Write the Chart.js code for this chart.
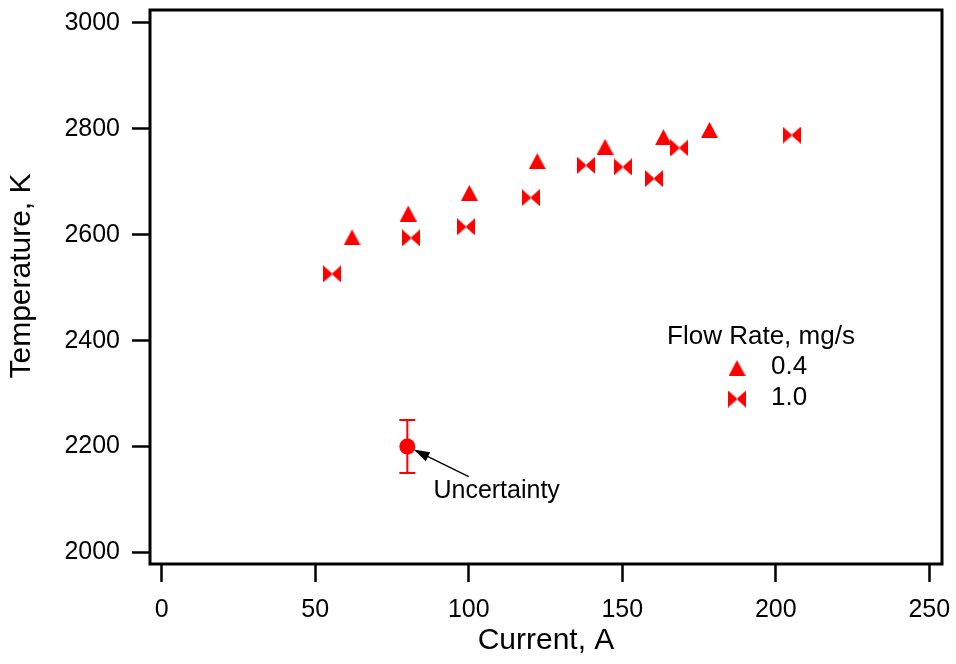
<!DOCTYPE html>
<html>
<head>
<meta charset="utf-8">
<script src="https://cdn.jsdelivr.net/npm/chart.js@4.4.1/dist/chart.umd.min.js"></script>
<style>
  html, body { margin: 0; padding: 0; background: #fff; }
  #wrap { width: 956px; height: 664px; position: relative; }
</style>
</head>
<body>
<div id="wrap"><canvas id="chart"></canvas></div>
<script>
// data
const current04 = [62, 80.3, 100.2, 122.3, 144.4, 163.4, 178.4];
const temp04 = [2595, 2640, 2679, 2739, 2766, 2784, 2798];
const current10 = [55.5, 81.2, 99.1, 120.2, 138.2, 150.2, 160.3, 168.6, 205.2];
const temp10 = [2526, 2594, 2615, 2670, 2731, 2728, 2706, 2764, 2788];
const uncCurrent = [80];
const uncTemp = [2200];
const uncError = 50;
const uncLabel = 'Uncertainty';
const uncLabelAt = [88.5, 2115];   // where the note sits, in data units
const uncArrowFrom = [100, 2143];

const xTicks = [0, 50, 100, 150, 200, 250];
const yTicks = [2000, 2200, 2400, 2600, 2800, 3000];
const xTitle = 'Current, A';
const yTitle = 'Temperature, K';
const legendTitle = 'Flow Rate, mg/s';
const legendLabels = ['0.4', '1.0'];

const FONT = '"Liberation Sans", Arial, Helvetica, sans-serif';
const RED = '#ff0000';

// marker images
function makeMarker(kind) {
  const c = document.createElement('canvas');
  const g = c.getContext('2d');
  if (kind === 'tri') {
    c.width = 17; c.height = 16;
    g.fillStyle = RED;
    g.beginPath();
    g.moveTo(8.5, 0); g.lineTo(17, 16); g.lineTo(0, 16);
    g.closePath(); g.fill();
  } else {
    c.width = 18; c.height = 17;
    g.fillStyle = RED;
    g.beginPath();
    g.moveTo(0, 0); g.lineTo(9.6, 8.5); g.lineTo(0, 17); g.closePath();
    g.moveTo(18, 0); g.lineTo(8.4, 8.5); g.lineTo(18, 17); g.closePath();
    g.fill();
  }
  return c;
}
const triMarker = makeMarker('tri');
const bowMarker = makeMarker('bow');

const toPts = (xs, ys) => xs.map((x, i) => ({x: x, y: ys[i]}));

const extras = {
  id: 'extras',
  beforeDatasetsDraw(chart) {
    const {ctx, scales: {x, y}} = chart;
    // error bar on the uncertainty point
    const px = x.getPixelForValue(uncCurrent[0]);
    const top = y.getPixelForValue(uncTemp[0] + uncError);
    const bot = y.getPixelForValue(uncTemp[0] - uncError);
    ctx.save();
    ctx.strokeStyle = RED;
    ctx.lineWidth = 2;
    ctx.beginPath();
    ctx.moveTo(px, top); ctx.lineTo(px, bot);
    ctx.moveTo(px - 8, top); ctx.lineTo(px + 8, top);
    ctx.moveTo(px - 8, bot); ctx.lineTo(px + 8, bot);
    ctx.stroke();
    ctx.restore();
  },
  afterDraw(chart) {
    const {ctx, chartArea: a, scales: {x, y}} = chart;
    ctx.save();
    // frame
    ctx.strokeStyle = '#000';
    ctx.lineWidth = 3;
    ctx.strokeRect(a.left, a.top, a.right - a.left, a.bottom - a.top);

    // y title, sits a bit above the middle of the axis
    ctx.save();
    ctx.fillStyle = '#000';
    ctx.font = '30px ' + FONT;
    ctx.textAlign = 'center';
    ctx.textBaseline = 'middle';
    ctx.translate(22, 276);
    ctx.rotate(-Math.PI / 2);
    ctx.fillText(yTitle, 0, 0);
    ctx.restore();

    // arrow to the uncertainty point
    const cx = x.getPixelForValue(uncCurrent[0]);
    const cy = y.getPixelForValue(uncTemp[0]);
    const tx = x.getPixelForValue(uncArrowFrom[0]);
    const ty = y.getPixelForValue(uncArrowFrom[1]);
    const len = Math.hypot(tx - cx, ty - cy);
    const ux = (tx - cx) / len, uy = (ty - cy) / len;
    const hx = cx + ux * 7, hy = cy + uy * 7;
    ctx.lineWidth = 1.3;
    ctx.beginPath();
    ctx.moveTo(tx, ty); ctx.lineTo(hx + ux * 12, hy + uy * 12);
    ctx.stroke();
    ctx.fillStyle = '#000';
    ctx.beginPath();
    ctx.moveTo(hx, hy);
    ctx.lineTo(hx + ux * 16 - uy * 5, hy + uy * 16 + ux * 5);
    ctx.lineTo(hx + ux * 16 + uy * 5, hy + uy * 16 - ux * 5);
    ctx.closePath(); ctx.fill();

    ctx.font = '25px ' + FONT;
    ctx.textBaseline = 'middle';
    ctx.textAlign = 'left';
    ctx.fillText(uncLabel, x.getPixelForValue(uncLabelAt[0]), y.getPixelForValue(uncLabelAt[1]));

    // legend
    ctx.font = '26px ' + FONT;
    ctx.textAlign = 'center';
    ctx.fillText(legendTitle, 761, 337);
    ctx.textAlign = 'left';
    const marks = [triMarker, bowMarker];
    legendLabels.forEach((lab, i) => {
      const ly = 368 + i * 31;
      const m = marks[i];
      ctx.drawImage(m, 737 - m.width / 2, ly - m.height / 2);
      ctx.fillText(lab, 771, ly - 1);
    });
    ctx.restore();
  }
};

const plainTick = v => String(v);

new Chart(document.getElementById('chart'), {
  type: 'scatter',
  data: {
    datasets: [
      {
        label: legendLabels[0],
        data: toPts(current04, temp04),
        pointStyle: triMarker,
        pointRadius: 9,
        backgroundColor: RED,
        borderColor: RED
      },
      {
        label: legendLabels[1],
        data: toPts(current10, temp10),
        pointStyle: bowMarker,
        pointRadius: 9,
        backgroundColor: RED,
        borderColor: RED
      },
      {
        label: uncLabel,
        data: toPts(uncCurrent, uncTemp),
        pointStyle: 'circle',
        pointRadius: 8,
        borderWidth: 0,
        backgroundColor: RED,
        borderColor: RED
      }
    ]
  },
  options: {
    responsive: true,
    maintainAspectRatio: false,
    animation: false,
    layout: { padding: { top: 6, right: 14, left: 0, bottom: 0 } },
    plugins: {
      legend: { display: false },
      tooltip: { enabled: false }
    },
    scales: {
      x: {
        type: 'linear',
        min: -3.81,
        max: 254.14,
        afterBuildTicks: s => { s.ticks = xTicks.map(v => ({value: v})); },
        afterFit: s => {
          s.height = 100;
          s.paddingLeft = 0; s.paddingRight = 0;
        },
        border: { display: false },
        grid: {
          drawOnChartArea: false,
          drawTicks: true,
          tickLength: 18,
          tickWidth: 2.5,
          tickColor: '#000',
          color: '#000'
        },
        ticks: {
          color: '#000',
          padding: 13,
          maxRotation: 0,
          callback: plainTick,
          font: { family: FONT, size: 25 }
        },
        title: {
          display: true,
          text: xTitle,
          color: '#000',
          padding: { top: 0, bottom: 5 },
          font: { family: FONT, size: 30 }
        }
      },
      y: {
        type: 'linear',
        min: 1978.1,
        max: 3024.4,
        afterBuildTicks: s => { s.ticks = yTicks.map(v => ({value: v})); },
        afterFit: s => {
          s.width = 150;
          s.paddingTop = 0; s.paddingBottom = 0;
        },
        border: { display: false },
        grid: {
          drawOnChartArea: false,
          drawTicks: true,
          tickLength: 18,
          tickWidth: 2.5,
          tickColor: '#000',
          color: '#000'
        },
        ticks: {
          color: '#000',
          padding: 12,
          callback: plainTick,
          font: { family: FONT, size: 25 }
        },
        title: { display: false }
      }
    }
  },
  plugins: [extras]
});
</script>
</body>
</html>
